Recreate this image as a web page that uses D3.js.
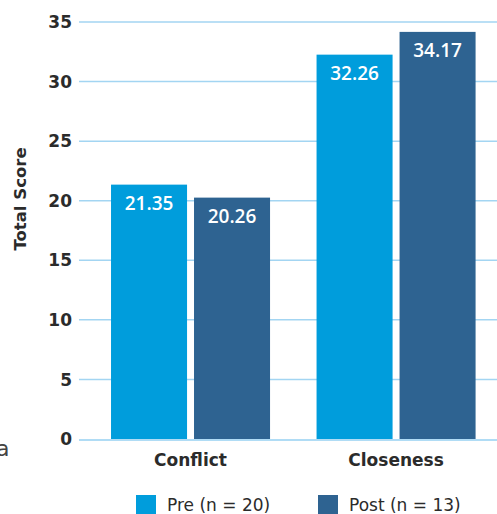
<!DOCTYPE html>
<html><head><meta charset="utf-8">
<script src="https://cdn.jsdelivr.net/npm/d3@7"></script>
<style>body{margin:0;background:#fff;}svg{display:block;font-family:"DejaVu Sans",sans-serif;}</style>
</head><body>
<script>
const categories = ["Conflict", "Closeness"];
const seriesNames = ["Pre (n = 20)", "Post (n = 13)"];
const preValues = [21.35, 32.26];
const postValues = [20.26, 34.17];
const yTicks = [0, 5, 10, 15, 20, 25, 30, 35];
const colors = ["#009ddc", "#2e6391"];

const W = 497, H = 514;
const svg = d3.select("body").append("svg").attr("width", W).attr("height", H);

const data = categories.map((c, i) => ({cat: c, vals: [preValues[i], postValues[i]]}));

const x0 = d3.scaleBand().domain(categories).range([87.8, 498.8]).paddingInner(0.2263).paddingOuter(0.113);
const x1 = d3.scaleBand().domain([0, 1]).range([0, x0.bandwidth()]).paddingInner(0.084);
const y = d3.scaleLinear().domain([0, 35]).range([439, 22]);

// gridlines
svg.append("g").selectAll("line").data(yTicks).join("line")
  .attr("x1", 79).attr("x2", W)
  .attr("y1", d => y(d) + (d === 0 ? 1 : 0)).attr("y2", d => y(d) + (d === 0 ? 1 : 0))
  .attr("stroke", d => d === 0 ? "#b0dcf5" : "#a3d5f2")
  .attr("stroke-width", d => d === 0 ? 2 : 1.5);

// tick labels
svg.append("g").selectAll("text").data(yTicks).join("text")
  .attr("x", 72).attr("y", d => y(d)).attr("dy", "0.36em")
  .attr("text-anchor", "end").attr("font-size", 17).attr("font-weight", 700)
  .attr("fill", "#2b2b2b").text(d => d);

// bars
const g = svg.append("g").selectAll("g").data(data).join("g")
  .attr("transform", d => `translate(${x0(d.cat)},0)`);
g.selectAll("rect").data(d => d.vals).join("rect")
  .attr("x", (d, i) => x1(i)).attr("width", x1.bandwidth())
  .attr("y", d => y(d)).attr("height", d => y(0) - y(d))
  .attr("fill", (d, i) => colors[i]);
g.selectAll("text").data(d => d.vals).join("text")
  .attr("x", (d, i) => x1(i) + x1.bandwidth() / 2).attr("y", d => y(d) + 25)
  .attr("text-anchor", "middle").attr("font-size", 19).attr("font-weight", 600)
  .attr("font-family", "'Open Sans', sans-serif")
  .attr("fill", "#fff").text(d => d.toFixed(2));

// category labels
svg.append("g").selectAll("text").data(categories).join("text")
  .attr("x", d => x0(d) + x0.bandwidth() / 2).attr("y", 466)
  .attr("text-anchor", "middle").attr("font-size", 17).attr("font-weight", 700)
  .attr("fill", "#2b2b2b").text(d => d);

// y axis title
svg.append("text").attr("transform", "translate(26,199) rotate(-90)")
  .attr("text-anchor", "middle").attr("font-size", 16.5).attr("font-weight", 700)
  .attr("fill", "#2b2b2b").text("Total Score");

// stray fragment at left edge
svg.append("text").attr("x", -4).attr("y", 456).attr("font-size", 22)
  .attr("fill", "#444").text("a");

// legend
const legX = [136, 318];
const leg = svg.append("g").selectAll("g").data(seriesNames).join("g")
  .attr("transform", (d, i) => `translate(${legX[i]},495)`);
leg.append("rect").attr("width", 20).attr("height", 20).attr("fill", (d, i) => colors[i]);
leg.append("text").attr("x", 31).attr("y", 16).attr("font-size", 17)
  .attr("fill", "#2b2b2b").text(d => d);
</script>
</body></html>
